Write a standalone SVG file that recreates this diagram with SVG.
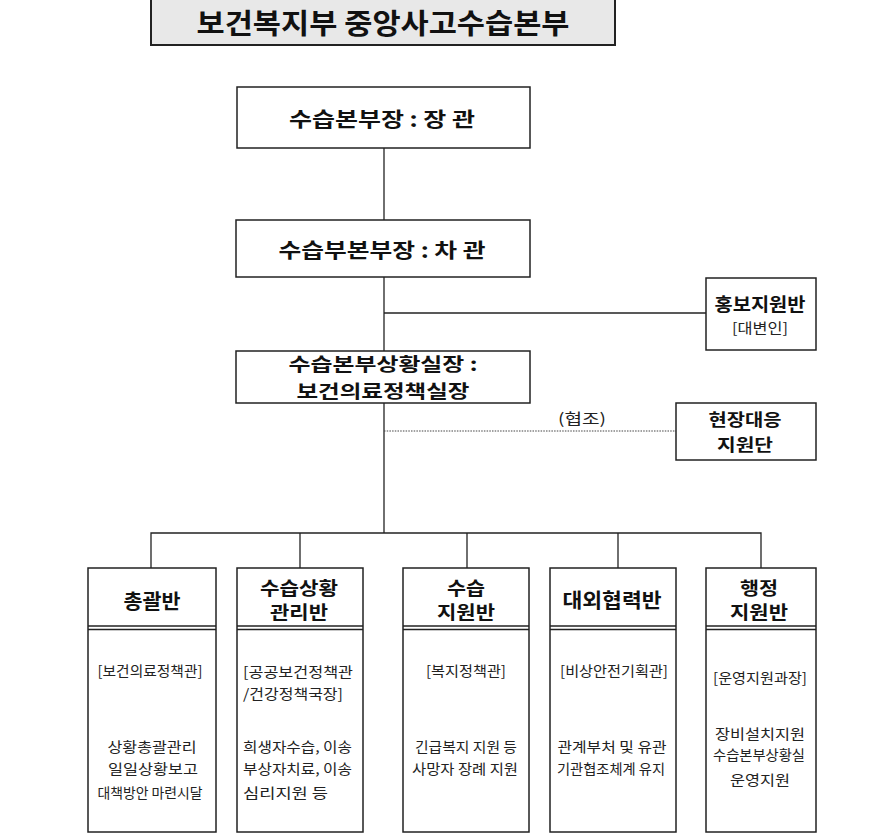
<svg xmlns="http://www.w3.org/2000/svg" width="889" height="834" viewBox="0 0 889 834">
<style>
.box{fill:#fff;stroke:#222;stroke-width:1.5}
.ln{fill:none;stroke:#222;stroke-width:1.3}
.dot{fill:none;stroke:#444;stroke-width:1.2;stroke-dasharray:1.5 1.2}
text{font-family:"Noto Sans CJK KR","Noto Sans",sans-serif;text-anchor:middle;dominant-baseline:central;fill:#111}
.t{font-size:28px;font-weight:bold}
.h1{font-size:20px;font-weight:bold}
.h2{font-size:18px;font-weight:bold}
.h3{font-size:17px;font-weight:bold}
.s{font-size:14px;fill:#222}
.b{font-size:14px;fill:#222}
.st{text-anchor:start}
</style>
<rect width="889" height="834" fill="#fff"/>
<g id="title">
<rect x="151" y="-1" width="464" height="46" fill="#e8e8e8" stroke="#222" stroke-width="2"/>
<text class="t" x="383" y="22" textLength="373" lengthAdjust="spacingAndGlyphs">보건복지부 중앙사고수습본부</text>
</g>
<g id="connectors">
<line class="ln" x1="384" y1="148" x2="384" y2="533"/>
<line class="ln" x1="384" y1="313" x2="706" y2="313"/>
<line class="dot" x1="384" y1="431" x2="676" y2="431"/>
<polyline class="ln" points="151,568 151,533 761,533 761,568"/>
<line class="ln" x1="300" y1="533" x2="300" y2="568"/>
<line class="ln" x1="467" y1="533" x2="467" y2="568"/>
<line class="ln" x1="618" y1="533" x2="618" y2="568"/>
<text class="s" x="582" y="417" style="font-size:15px" textLength="48" lengthAdjust="spacingAndGlyphs">(협조)</text>
</g>
<g id="n-minister">
<rect class="box" x="237" y="87" width="293" height="61"/>
<text class="h1" x="382" y="118" textLength="186" lengthAdjust="spacingAndGlyphs">수습본부장 : 장 관</text>
</g>
<g id="n-vice">
<rect class="box" x="236" y="220" width="294" height="57"/>
<text class="h1" x="382" y="249" textLength="207" lengthAdjust="spacingAndGlyphs">수습부본부장 : 차 관</text>
</g>
<g id="n-pr">
<rect class="box" x="706" y="278" width="110" height="72"/>
<text class="h2" x="760" y="303" textLength="91" lengthAdjust="spacingAndGlyphs">홍보지원반</text>
<text class="s" x="760" y="327" textLength="56" lengthAdjust="spacingAndGlyphs">[대변인]</text>
</g>
<g id="n-situation">
<rect class="box" x="236" y="351" width="294" height="52"/>
<text class="h2" x="383" y="363" textLength="189" lengthAdjust="spacingAndGlyphs">수습본부상황실장 :</text>
<text class="h2" x="383" y="390" textLength="173" lengthAdjust="spacingAndGlyphs">보건의료정책실장</text>
</g>
<g id="n-field">
<rect class="box" x="676" y="403" width="140" height="57"/>
<text class="h3" x="745" y="418" textLength="73" lengthAdjust="spacingAndGlyphs">현장대응</text>
<text class="h3" x="745" y="443" textLength="56" lengthAdjust="spacingAndGlyphs">지원단</text>
</g>
<g id="n-general">
<rect class="box" x="88" y="568" width="128" height="264"/>
<line class="ln" x1="88" y1="626" x2="216" y2="626"/>
<line class="ln" x1="88" y1="629.5" x2="216" y2="629.5"/>
<text class="h1" x="152" y="600" textLength="57" lengthAdjust="spacingAndGlyphs">총괄반</text>
<text class="s" x="150" y="670" textLength="105" lengthAdjust="spacingAndGlyphs">[보건의료정책관]</text>
<text class="b" x="152" y="746" textLength="89" lengthAdjust="spacingAndGlyphs">상황총괄관리</text>
<text class="b" x="153" y="768" textLength="90" lengthAdjust="spacingAndGlyphs">일일상황보고</text>
<text class="b" x="150" y="792" textLength="105" lengthAdjust="spacingAndGlyphs">대책방안 마련시달</text>
</g>
<g id="n-manage">
<rect class="box" x="237" y="568" width="126" height="264"/>
<line class="ln" x1="237" y1="626" x2="363" y2="626"/>
<line class="ln" x1="237" y1="629.5" x2="363" y2="629.5"/>
<text class="h2" x="299" y="587" textLength="78" lengthAdjust="spacingAndGlyphs">수습상황</text>
<text class="h2" x="299" y="611" textLength="58" lengthAdjust="spacingAndGlyphs">관리반</text>
<text class="s st" x="243" y="671" textLength="110" lengthAdjust="spacingAndGlyphs">[공공보건정책관</text>
<text class="s st" x="243" y="693" textLength="100" lengthAdjust="spacingAndGlyphs">/건강정책국장]</text>
<text class="b st" x="243" y="746" textLength="109" lengthAdjust="spacingAndGlyphs">희생자수습, 이송</text>
<text class="b st" x="243" y="768" textLength="109" lengthAdjust="spacingAndGlyphs">부상자치료, 이송</text>
<text class="b st" x="243" y="792" textLength="85" lengthAdjust="spacingAndGlyphs">심리지원  등</text>
</g>
<g id="n-support">
<rect class="box" x="403" y="568" width="126" height="264"/>
<line class="ln" x1="403" y1="626" x2="529" y2="626"/>
<line class="ln" x1="403" y1="629.5" x2="529" y2="629.5"/>
<text class="h2" x="466" y="587" textLength="38" lengthAdjust="spacingAndGlyphs">수습</text>
<text class="h2" x="466" y="611" textLength="58" lengthAdjust="spacingAndGlyphs">지원반</text>
<text class="s" x="466" y="670" textLength="80" lengthAdjust="spacingAndGlyphs">[복지정책관]</text>
<text class="b" x="466" y="746" textLength="102" lengthAdjust="spacingAndGlyphs">긴급복지 지원 등</text>
<text class="b" x="465" y="768" textLength="106" lengthAdjust="spacingAndGlyphs">사망자 장례 지원</text>
</g>
<g id="n-external">
<rect class="box" x="550" y="568" width="126" height="264"/>
<line class="ln" x1="550" y1="626" x2="676" y2="626"/>
<line class="ln" x1="550" y1="629.5" x2="676" y2="629.5"/>
<text class="h1" x="612" y="599" textLength="99" lengthAdjust="spacingAndGlyphs">대외협력반</text>
<text class="s" x="614" y="670" textLength="108" lengthAdjust="spacingAndGlyphs">[비상안전기획관]</text>
<text class="b" x="612" y="746" textLength="109" lengthAdjust="spacingAndGlyphs">관계부처 및 유관</text>
<text class="b" x="611" y="768" textLength="108" lengthAdjust="spacingAndGlyphs">기관협조체계 유지</text>
</g>
<g id="n-admin">
<rect class="box" x="706" y="568" width="110" height="264"/>
<line class="ln" x1="706" y1="626" x2="816" y2="626"/>
<line class="ln" x1="706" y1="629.5" x2="816" y2="629.5"/>
<text class="h2" x="759" y="587" textLength="38" lengthAdjust="spacingAndGlyphs">행정</text>
<text class="h2" x="759" y="611" textLength="58" lengthAdjust="spacingAndGlyphs">지원반</text>
<text class="s" x="760" y="677" textLength="94" lengthAdjust="spacingAndGlyphs">[운영지원과장]</text>
<text class="b" x="760" y="733" textLength="90" lengthAdjust="spacingAndGlyphs">장비설치지원</text>
<text class="b" x="759" y="754" textLength="92" lengthAdjust="spacingAndGlyphs">수습본부상황실</text>
<text class="b" x="760" y="779" textLength="60" lengthAdjust="spacingAndGlyphs">운영지원</text>
</g>
</svg>
